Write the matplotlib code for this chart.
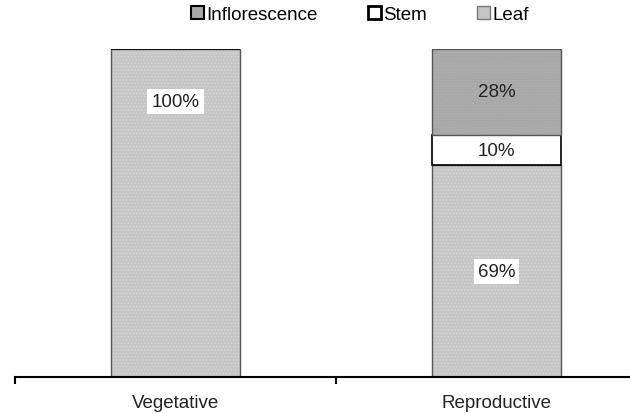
import numpy as np
import matplotlib.pyplot as plt
from matplotlib.patches import Patch

plt.rcParams['font.family'] = ['Liberation Sans', 'DejaVu Sans']
plt.rcParams['hatch.linewidth'] = 0.4

stages = ['Vegetative', 'Reproductive']
leaf = [100, 69]
stem = [0, 10]
inflorescence = [0, 28]

leaf_lbl = ['100%', '69%']
stem_lbl = ['', '10%']
infl_lbl = ['', '28%']

# bars are drawn as 100% stacked
tot = np.array(leaf) + np.array(stem) + np.array(inflorescence)
leaf_p = np.array(leaf) / tot * 100
stem_p = np.array(stem) / tot * 100
infl_p = np.array(inflorescence) / tot * 100

fs = 13.5
fig = plt.figure(figsize=(6.3, 4.14), dpi=100)
ax = fig.add_axes([15 / 630, 36 / 414, 615 / 630, 328 / 414])

x = np.arange(len(stages))
w = 0.4
ax.bar(x, leaf_p, w, color='#c6c6c6', edgecolor='#dcdcdc', hatch='.....', linewidth=0)
ax.bar(x, leaf_p, w, fill=False, edgecolor='#555555', linewidth=1)
ax.bar(x, stem_p, w, bottom=leaf_p, color='white', edgecolor='black', linewidth=1.2)
ax.bar(x, infl_p, w, bottom=leaf_p + stem_p, color='#a8a8a8', edgecolor='#b4b4b4', hatch='......', linewidth=0)
ax.bar(x[1:], infl_p[1:], w, bottom=(leaf_p + stem_p)[1:], fill=False, edgecolor='#555555', linewidth=1)

box = dict(facecolor='white', edgecolor='none', pad=3)
ax.text(0, 84, leaf_lbl[0], ha='center', va='center', fontsize=fs, color='#222222', bbox=box)
ax.text(1, leaf_p[1] / 2, leaf_lbl[1], ha='center', va='center', fontsize=fs, color='#222222', bbox=box)
ax.text(1, leaf_p[1] + stem_p[1] / 2, stem_lbl[1], ha='center', va='center', fontsize=fs, color='#222222')
ax.text(1, leaf_p[1] + stem_p[1] + infl_p[1] / 2, infl_lbl[1], ha='center', va='center', fontsize=fs, color='#222222')

ax.set_xticks([-0.5, 0.5, 1.5], minor=False)
ax.set_xticklabels(['', '', ''])
ax.set_xticks(x, minor=True)
ax.set_xticklabels(stages, minor=True, fontsize=fs, color='#222222')
ax.tick_params(axis='x', which='major', direction='out', length=5, width=1.5)
ax.tick_params(axis='x', which='minor', length=0, pad=12)
ax.set_xlim(-0.5, -0.5 + 615 / 321)
ax.set_ylim(0, 100)
ax.set_yticks([])
for s in ['left', 'right', 'top']:
    ax.spines[s].set_visible(False)
ax.spines['bottom'].set_linewidth(1.5)

handles = [Patch(facecolor='#a8a8a8', edgecolor='black', linewidth=1.5),
           Patch(facecolor='white', edgecolor='black', linewidth=2),
           Patch(facecolor='#c6c6c6', edgecolor='#777777', linewidth=1)]
fig.legend(handles, ['Inflorescence', 'Stem', 'Leaf'], loc='center', bbox_to_anchor=(0.571, 0.962),
           ncol=3, frameon=False, fontsize=fs, handlelength=0.7, handleheight=0.7,
           handletextpad=0.1, columnspacing=2.7)

fig.savefig('out.png', dpi=100)
